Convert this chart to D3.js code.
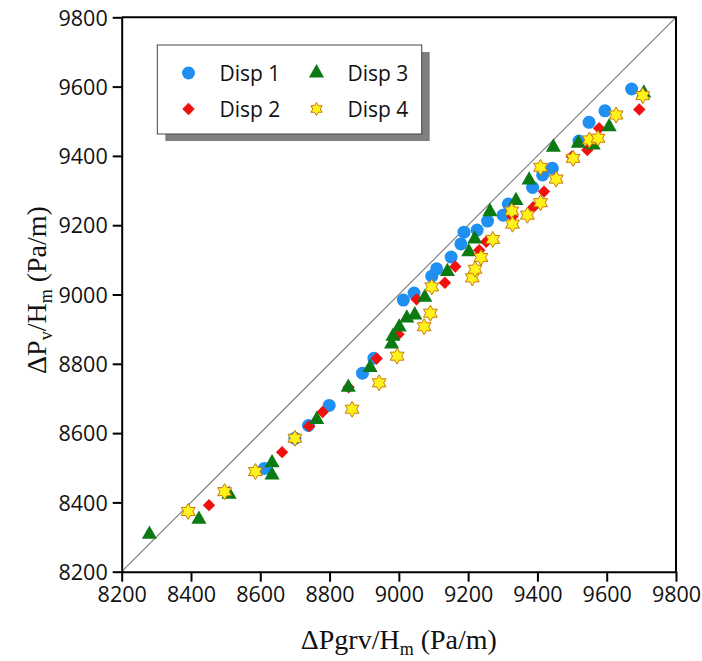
<!DOCTYPE html>
<html>
<head>
<meta charset="utf-8">
<script src="https://cdn.jsdelivr.net/npm/d3@7"></script>
<style>
  html, body { margin: 0; padding: 0; background: #fff; }
  svg { display: block; }
  .tick-label { font-family: "Open Sans", sans-serif; font-size: 21.5px; fill: #111; }
  .axis-title { font-family: "Liberation Serif", "Times New Roman", serif; font-size: 28px; fill: #111; }
  .legend-text { font-family: "Open Sans", sans-serif; font-size: 21px; fill: #111; }
</style>
</head>
<body>
<svg id="chart" width="702" height="661"></svg>
<script>
// Axis ticks
const xTicks = [8200, 8400, 8600, 8800, 9000, 9200, 9400, 9600, 9800];
const yTicks = [8200, 8400, 8600, 8800, 9000, 9200, 9400, 9600, 9800];

// Disp 1 — [ΔPgrv/Hm, ΔPv/Hm]
const disp1 = [
  [8612, 8498], [8700, 8585], [8739, 8622], [8799, 8680], [8895, 8773],
  [8928, 8816], [9013, 8984], [9044, 9004], [9095, 9053], [9109, 9074],
  [9151, 9108], [9179, 9146], [9188, 9180], [9226, 9186], [9256, 9212],
  [9301, 9229], [9316, 9261], [9386, 9309], [9415, 9345], [9443, 9364],
  [9520, 9443], [9549, 9497], [9595, 9530], [9672, 9593]
];

// Disp 2
const disp2 = [
  [8452, 8392], [8663, 8545], [8741, 8620], [8780, 8661], [8855, 8732],
  [8936, 8815], [8999, 8885], [9051, 8986], [9133, 9034], [9163, 9081],
  [9232, 9128], [9252, 9152], [9328, 9225], [9388, 9252], [9419, 9297],
  [9499, 9398], [9544, 9417], [9578, 9480], [9694, 9534]
];

// Disp 3
const disp3 = [
  [8280, 8308], [8423, 8351], [8510, 8423], [8634, 8514], [8634, 8479],
  [8763, 8639], [8854, 8732], [8917, 8789], [8979, 8857], [8983, 8879],
  [9001, 8906], [9023, 8932], [9046, 8941], [9075, 8992], [9140, 9066],
  [9202, 9123], [9219, 9160], [9263, 9239], [9338, 9271], [9376, 9330],
  [9446, 9425], [9518, 9436], [9561, 9431], [9607, 9484], [9707, 9581]
];

// Disp 4
const disp4 = [
  [8392, 8374], [8497, 8431], [8586, 8489], [8700, 8585], [8865, 8669],
  [8943, 8745], [8995, 8822], [9073, 8907], [9091, 8946], [9095, 9022],
  [9212, 9048], [9220, 9073], [9237, 9107], [9271, 9159], [9326, 9241],
  [9328, 9203], [9371, 9229], [9409, 9265], [9409, 9367], [9454, 9333],
  [9503, 9393], [9550, 9446], [9575, 9451], [9627, 9518], [9704, 9574]
];

const seriesNames = ["Disp 1", "Disp 2", "Disp 3", "Disp 4"];
const seriesData = [disp1, disp2, disp3, disp4];

// Marker shapes; the size argument is used as the marker's outer radius in px
const circleSym = {
  draw(ctx, r) { ctx.moveTo(r, 0); ctx.arc(0, 0, r, 0, 2 * Math.PI); ctx.closePath(); }
};
const diamondSym = {
  draw(ctx, r) { ctx.moveTo(0, -r); ctx.lineTo(r, 0); ctx.lineTo(0, r); ctx.lineTo(-r, 0); ctx.closePath(); }
};
const triangleSym = {
  draw(ctx, r) {
    const w = r * 2.1, h = r * 1.85;
    ctx.moveTo(0, -h * 2 / 3); ctx.lineTo(w / 2, h / 3); ctx.lineTo(-w / 2, h / 3); ctx.closePath();
  }
};
const hexagramSym = {
  draw(ctx, R) {
    const r = R / Math.sqrt(3);
    for (let i = 0; i < 12; i++) {
      const a = -Math.PI / 2 + i * Math.PI / 6;
      const rad = i % 2 === 0 ? R : r;
      const px = rad * Math.cos(a), py = rad * Math.sin(a);
      if (i === 0) ctx.moveTo(px, py); else ctx.lineTo(px, py);
    }
    ctx.closePath();
  }
};

const styles = [
  { type: circleSym,   size: 6.5, fill: "#1f8ff2", stroke: "none",    sw: 0 },
  { type: diamondSym,  size: 6.2, fill: "#f01010", stroke: "none",    sw: 0 },
  { type: triangleSym, size: 7.2, fill: "#0b7a12", stroke: "none",    sw: 0 },
  { type: hexagramSym, size: 8.0, fill: "#fff21a", stroke: "#c8780a", sw: 1 }
];

const svg = d3.select("#chart");
const m = { left: 121.7, top: 17.3, right: 676, bottom: 571.7 };

const x = d3.scaleLinear().domain([8200, 9800]).range([m.left, m.right]);
const y = d3.scaleLinear().domain([8200, 9800]).range([m.bottom, m.top]);

// 1:1 reference line
svg.append("line")
  .attr("x1", x(8200)).attr("y1", y(8200))
  .attr("x2", x(9800)).attr("y2", y(9800))
  .attr("stroke", "#7a7a7a").attr("stroke-width", 1.1);

// Markers, series 1 at the bottom
seriesData.forEach((data, i) => {
  const st = styles[i];
  svg.append("g").selectAll("path").data(data).join("path")
    .attr("transform", d => `translate(${x(d[0])},${y(d[1])})`)
    .attr("d", d3.symbol().type(st.type).size(st.size))
    .attr("fill", st.fill)
    .attr("stroke", st.stroke)
    .attr("stroke-width", st.sw);
});

// Frame: top and right edges
svg.append("path")
  .attr("d", `M${m.left},${m.top}H${m.right}V${m.bottom}`)
  .attr("fill", "none").attr("stroke", "#000").attr("stroke-width", 2);

// Axes
const xAxis = svg.append("g")
  .attr("transform", `translate(0,${m.bottom})`)
  .call(d3.axisBottom(x).tickValues(xTicks).tickFormat(d3.format("d")).tickSize(10).tickSizeOuter(0));
const yAxis = svg.append("g")
  .attr("transform", `translate(${m.left},0)`)
  .call(d3.axisLeft(y).tickValues(yTicks).tickFormat(d3.format("d")).tickSize(9).tickSizeOuter(0));

[xAxis, yAxis].forEach(g => {
  g.select(".domain").attr("stroke", "#000").attr("stroke-width", 2);
  g.selectAll(".tick line").attr("stroke", "#000").attr("stroke-width", 2);
  g.selectAll(".tick text").attr("class", "tick-label").attr("fill", "#111");
});
xAxis.selectAll(".tick text").attr("dy", "0.71em").attr("y", 15);
yAxis.selectAll(".tick text").attr("x", -14).attr("dy", "0.36em");

// Axis titles
const xt = svg.append("text").attr("class", "axis-title")
  .attr("x", (m.left + m.right) / 2).attr("y", 649).attr("text-anchor", "middle");
xt.append("tspan").text("ΔPgrv/H");
xt.append("tspan").attr("font-size", "18px").attr("dy", 6).text("m");
xt.append("tspan").attr("dy", -6).text(" (Pa/m)");

const yt = svg.append("text").attr("class", "axis-title")
  .attr("transform", `translate(46,290) rotate(-90)`)
  .attr("text-anchor", "middle");
yt.append("tspan").text("ΔP");
yt.append("tspan").attr("font-size", "18px").attr("dy", 6).text("v");
yt.append("tspan").attr("dy", -6).text("/H");
yt.append("tspan").attr("font-size", "18px").attr("dy", 6).text("m");
yt.append("tspan").attr("dy", -6).text(" (Pa/m)");

// Legend with drop shadow
const lg = svg.append("g");
lg.append("rect").attr("x", 165.3).attr("y", 52).attr("width", 264.4).attr("height", 89).attr("fill", "#7f7f7f");
lg.append("rect").attr("x", 157.3).attr("y", 45).attr("width", 264.4).attr("height", 89)
  .attr("fill", "#fff").attr("stroke", "#444").attr("stroke-width", 1);

const legendPos = [[188.5, 73], [188.5, 109], [316.5, 73], [316.5, 109]];
seriesNames.forEach((name, i) => {
  const st = styles[i];
  const [lx, ly] = legendPos[i];
  lg.append("path")
    .attr("transform", `translate(${lx},${ly})`)
    .attr("d", d3.symbol().type(st.type).size(i === 3 ? 6.5 : st.size))
    .attr("fill", st.fill).attr("stroke", st.stroke).attr("stroke-width", st.sw);
  lg.append("text").attr("class", "legend-text")
    .attr("x", lx + 31).attr("y", ly).attr("dy", "0.36em").text(name);
});
</script>
</body>
</html>
